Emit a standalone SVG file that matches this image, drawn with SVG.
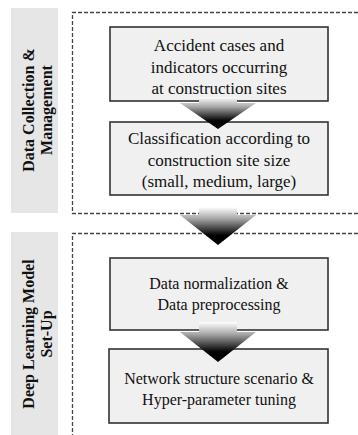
<svg xmlns="http://www.w3.org/2000/svg" width="358" height="435" viewBox="0 0 358 435">
<defs>
<linearGradient id="ag" x1="0" y1="0" x2="0" y2="1">
<stop offset="0" stop-color="#ffffff"/>
<stop offset="0.3" stop-color="#a8a8a8"/>
<stop offset="0.75" stop-color="#000000"/>
<stop offset="1" stop-color="#000000"/>
</linearGradient>
<style>
.bar{fill:#e6e6e6;}
.dash{fill:none;stroke:#444;stroke-width:1.3;stroke-dasharray:4 2;}
.box{fill:#f0f0f0;stroke:#333;stroke-width:1.6;}
.t{font-family:"Liberation Serif","Times New Roman",serif;fill:#111;text-anchor:middle;}
.big{font-size:17px;}
.small{font-size:16px;}
.lab{font-family:"Liberation Serif","Times New Roman",serif;font-weight:bold;font-size:16px;fill:#111;text-anchor:middle;}
.arrow{fill:url(#ag);}
</style>
</defs>
<g id="section1">
<rect class="bar" x="11" y="8" width="47" height="205"/>
<text class="lab" transform="translate(34,110) rotate(-90)">Data Collection &amp;</text>
<text class="lab" transform="translate(52,110) rotate(-90)">Management</text>
<path class="dash" d="M358,12.5 H72.5 V213.5 H358"/>
</g>
<g id="section2">
<rect class="bar" x="11" y="232" width="47" height="203"/>
<text class="lab" transform="translate(34,334) rotate(-90)">Deep Learning Model</text>
<text class="lab" transform="translate(52,334) rotate(-90)">Set-Up</text>
<path class="dash" d="M358,233.5 H72.5 V435"/>
</g>
<g id="node1">
<rect class="box" x="110" y="27" width="218" height="74"/>
<text class="t big" x="219" y="51">Accident cases and</text>
<text class="t big" x="219" y="73">indicators occurring</text>
<text class="t big" x="219" y="94">at construction sites</text>
</g>
<g id="node2">
<rect class="box" x="110" y="122" width="218" height="73"/>
<text class="t big" x="219" y="144">Classification according to</text>
<text class="t big" x="219" y="166">construction site size</text>
<text class="t big" x="219" y="187">(small, medium, large)</text>
</g>
<g id="node3">
<rect class="box" x="110" y="258" width="218" height="72"/>
<text class="t small" x="219" y="289">Data normalization &amp;</text>
<text class="t small" x="219" y="310">Data preprocessing</text>
</g>
<g id="node4">
<rect class="box" x="109" y="349" width="219" height="74"/>
<text class="t small" x="219" y="384">Network structure scenario &amp;</text>
<text class="t small" x="219" y="405">Hyper-parameter tuning</text>
</g>
<g id="connectors">
<path class="arrow" d="M199,97 H237 V103 H256 L218,129 L180,103 H199 Z"/>
<path class="arrow" d="M199,207 H237 V215 H256 L218,245 L180,215 H199 Z"/>
<path class="arrow" d="M199,322 H237 V332 H256 L218,362 L180,332 H199 Z"/>
</g>
</svg>
